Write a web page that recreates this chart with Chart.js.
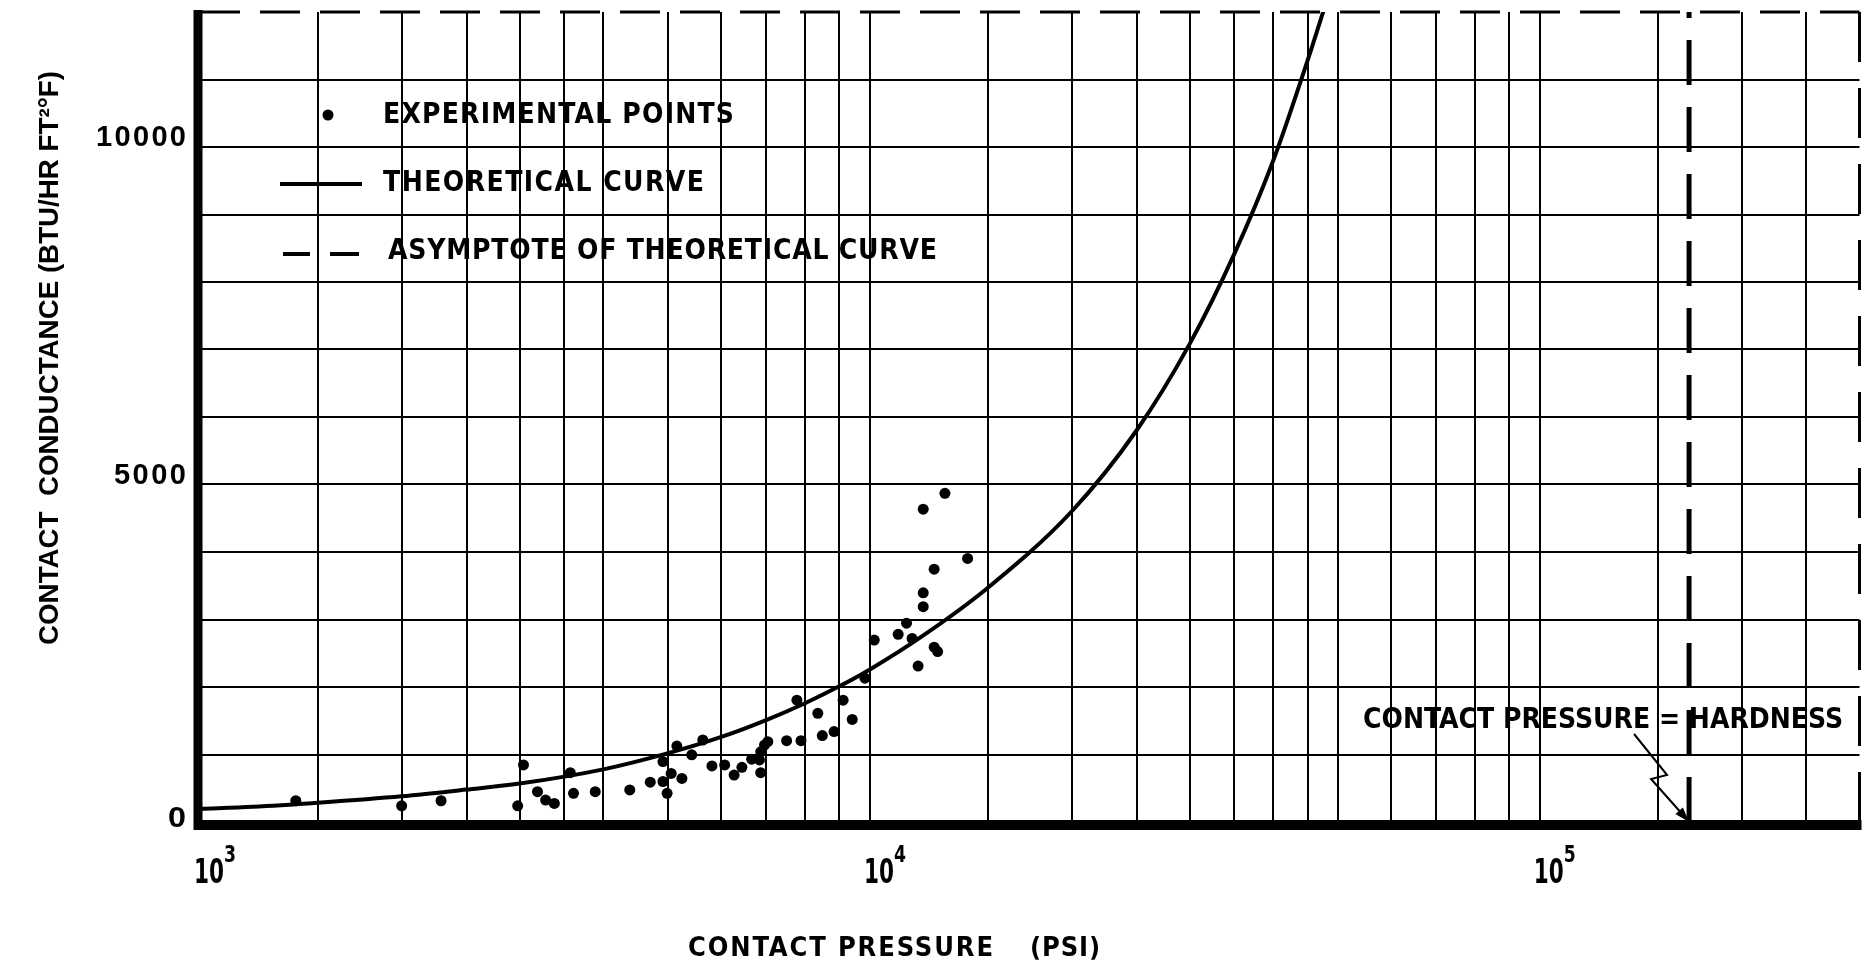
<!DOCTYPE html>
<html>
<head>
<meta charset="utf-8">
<title>Contact conductance vs contact pressure</title>
<script src="https://cdn.jsdelivr.net/npm/chart.js@4.4.1/dist/chart.umd.min.js"></script>
<style>
  html, body { margin: 0; padding: 0; background: #fff; }
  #wrap { width: 1865px; height: 966px; position: relative; }
</style>
</head>
<body>
<div id="wrap"><canvas id="chart"></canvas></div>
<script>
// experimental points (psi, BTU/hr ft2 F)
const expPressure = [1390, 2000, 2290, 2980, 3040, 3190, 3280, 3380, 3570, 3610, 3890, 4380, 4700,
  4910, 4910, 4980, 5050, 5150, 5240, 5420, 5630, 5810, 6070,
  6270, 6440, 6660, 6840, 6870, 6870, 6960, 7040, 7510, 7890,
  7780, 8360, 8490, 8840, 9120, 9410, 9830, 10150, 11020, 11340,
  11560, 11800, 12010, 12010, 12470, 12470, 12620, 12010, 12940, 13990];
const expConductance = [315, 240, 315, 240, 845, 450, 325, 275, 730, 425, 450, 475, 590,
  600, 895, 425, 720, 1125, 645, 995, 1215, 830, 845,
  695, 810, 930, 920, 730, 1040, 1140, 1190, 1205, 1205,
  1805, 1610, 1280, 1340, 1805, 1520, 2130, 2695, 2780, 2945,
  2720, 2310, 3190, 3395, 3745, 2590, 2525, 4635, 4870, 3905];

// theoretical curve
const curvePressure = [1000, 1200, 1500, 2000, 2500, 3000, 4000, 5000, 6000, 7000, 8000, 9000,
  10000, 12000, 15000, 20000, 25000, 30000, 35000, 40000, 45000, 48000];
const curveConductance = [195, 225, 285, 380, 480, 570, 780, 1020, 1260, 1510, 1760, 2010,
  2260, 2760, 3470, 4600, 5800, 7080, 8420, 9800, 11280, 12150];

// asymptote: contact pressure = hardness
const hardnessPressure = 167000;

const xGridValues = [1000, 1500, 2000, 2500, 3000, 3500, 4000, 5000, 6000, 7000, 8000, 9000,
  10000, 15000, 20000, 25000, 30000, 35000, 40000, 45000, 50000, 60000, 70000, 80000, 90000,
  100000, 150000, 200000, 250000];
const xLabelExponents = [3, 4, 5];
const yLabelValues = [0, 5000, 10000];
const legendLabels = ['EXPERIMENTAL POINTS', 'THEORETICAL CURVE', 'ASYMPTOTE OF THEORETICAL CURVE'];

const NARROW = "'Liberation Sans Narrow', 'DejaVu Sans Condensed', 'Liberation Sans', sans-serif";
const WIDE = "'Liberation Sans', 'DejaVu Sans', sans-serif";

// draw bold text stretched (by letter spacing or scaling) to a given width
function spacedText(ctx, text, left, midY, width, size, family) {
  ctx.save();
  ctx.font = `bold ${size}px ${family}`;
  ctx.textBaseline = 'middle';
  ctx.textAlign = 'left';
  if ('letterSpacing' in ctx) ctx.letterSpacing = '0px';
  const natural = ctx.measureText(text).width;
  if (width > natural && 'letterSpacing' in ctx && text.length > 1) {
    ctx.letterSpacing = ((width - natural) / (text.length - 1)) + 'px';
    ctx.fillText(text, left, midY);
  } else {
    ctx.translate(left, midY);
    ctx.scale(width / natural, 1);
    ctx.fillText(text, 0, 0);
  }
  ctx.restore();
}

const paperPlugin = {
  id: 'paper',
  afterDatasetsDraw(chart) {
    const { ctx, chartArea: a, scales } = chart;
    const x = scales.x;
    const y = scales.y;
    ctx.save();
    ctx.strokeStyle = '#000';
    ctx.fillStyle = '#000';

    // dashed top and right edges
    ctx.lineWidth = 3;
    ctx.setLineDash([40, 20]);
    ctx.beginPath(); ctx.moveTo(a.left, a.top); ctx.lineTo(a.right, a.top); ctx.stroke();
    ctx.setLineDash([50, 26]);
    ctx.beginPath(); ctx.moveTo(a.right, a.top); ctx.lineTo(a.right, a.bottom); ctx.stroke();
    ctx.setLineDash([]);

    // heavy axes
    ctx.lineWidth = 9;
    ctx.beginPath(); ctx.moveTo(a.left - 2, a.top - 2); ctx.lineTo(a.left - 2, a.bottom + 8); ctx.stroke();
    ctx.lineWidth = 10;
    ctx.beginPath(); ctx.moveTo(a.left - 6, a.bottom + 3); ctx.lineTo(a.right + 2, a.bottom + 3); ctx.stroke();

    // y tick labels
    yLabelValues.forEach((v) => {
      const text = String(v);
      const py = y.getPixelForValue(v) - (v === 0 ? 3 : 9);
      const w = 18 * text.length;
      spacedText(ctx, text, a.left - 14 - w, py, w, 29, WIDE);
    });

    // x tick labels 10^n
    xLabelExponents.forEach((e) => {
      const px = x.getPixelForValue(Math.pow(10, e));
      spacedText(ctx, '10', px - 6, a.bottom + 52, 30, 34, NARROW);
      spacedText(ctx, String(e), px + 24, a.bottom + 34, 12, 23, NARROW);
    });

    // axis titles
    spacedText(ctx, 'CONTACT PRESSURE', 688, 949, 305, 27, NARROW);
    spacedText(ctx, '(PSI)', 1030, 949, 70, 27, NARROW);
    ctx.save();
    ctx.translate(50, 358);
    ctx.rotate(-Math.PI / 2);
    spacedText(ctx, 'CONTACT  CONDUCTANCE (BTU/HR FT²°F)', -287, 0, 574, 28, WIDE);
    ctx.restore();

    // legend inside the plot
    const L = a.left;
    const T = a.top;
    ctx.beginPath(); ctx.arc(L + 128, T + 103, 5.5, 0, Math.PI * 2); ctx.fill();
    spacedText(ctx, legendLabels[0], L + 183, T + 104, 351, 28, NARROW);
    ctx.lineWidth = 4;
    ctx.beginPath(); ctx.moveTo(L + 80, T + 172); ctx.lineTo(L + 162, T + 172); ctx.stroke();
    spacedText(ctx, legendLabels[1], L + 183, T + 172, 321, 28, NARROW);
    ctx.beginPath();
    ctx.moveTo(L + 83, T + 242); ctx.lineTo(L + 110, T + 242);
    ctx.moveTo(L + 130, T + 242); ctx.lineTo(L + 159, T + 242);
    ctx.stroke();
    spacedText(ctx, legendLabels[2], L + 188, T + 240, 549, 28, NARROW);

    // hardness note with zigzag arrow
    const xa = x.getPixelForValue(hardnessPressure);
    const yb = y.getPixelForValue(0);
    spacedText(ctx, 'CONTACT PRESSURE = HARDNESS', xa - 326, yb - 101, 480, 28, NARROW);
    ctx.lineWidth = 2;
    ctx.beginPath();
    ctx.moveTo(xa - 55, yb - 88);
    ctx.lineTo(xa - 22, yb - 47);
    ctx.lineTo(xa - 38, yb - 43);
    ctx.lineTo(xa - 6, yb - 7);
    ctx.stroke();
    const ang = Math.atan2(43, 38);
    ctx.beginPath();
    ctx.moveTo(xa, yb);
    ctx.lineTo(xa - 15 * Math.cos(ang) + 5 * Math.sin(ang), yb - 15 * Math.sin(ang) - 5 * Math.cos(ang));
    ctx.lineTo(xa - 15 * Math.cos(ang) - 5 * Math.sin(ang), yb - 15 * Math.sin(ang) + 5 * Math.cos(ang));
    ctx.closePath();
    ctx.fill();

    ctx.restore();
  }
};

const canvasElement = document.getElementById('chart');

new Chart(canvasElement, {
  type: 'scatter',
  plugins: [paperPlugin],
  data: {
    datasets: [
      {
        label: legendLabels[0],
        data: expPressure.map((p, i) => ({ x: p, y: expConductance[i] })),
        pointRadius: 5.5,
        pointHoverRadius: 5.5,
        backgroundColor: '#000',
        borderColor: '#000',
        borderWidth: 0,
        showLine: false,
      },
      {
        label: legendLabels[1],
        type: 'line',
        data: curvePressure.map((p, i) => ({ x: p, y: curveConductance[i] })),
        borderColor: '#000',
        borderWidth: 4,
        pointRadius: 0,
        cubicInterpolationMode: 'monotone',
        fill: false,
        clip: 0,
      },
      {
        label: legendLabels[2],
        type: 'line',
        data: [{ x: hardnessPressure, y: 0 }, { x: hardnessPressure, y: 12000 }],
        borderColor: '#000',
        borderWidth: 5,
        borderDash: [45, 22],
        pointRadius: 0,
        fill: false,
      },
    ],
  },
  options: {
    responsive: true,
    maintainAspectRatio: false,
    animation: false,
    devicePixelRatio: 1,
    layout: { padding: { top: 12, right: 3, bottom: 0, left: 0 } },
    plugins: {
      legend: { display: false },
      tooltip: { enabled: false },
    },
    scales: {
      x: {
        type: 'logarithmic',
        min: 1000,
        max: 300000,
        border: { display: false },
        grid: { color: '#000', lineWidth: 2, drawTicks: false },
        ticks: { display: false, autoSkip: false },
        afterBuildTicks: (scale) => {
          scale.ticks = xGridValues.map((v) => ({ value: v }));
        },
        afterFit: (scale) => {
          scale.height = 144;
        },
      },
      y: {
        min: 0,
        max: 12000,
        border: { display: false },
        grid: {
          color: (c) => (c.tick && c.tick.value === 12000 ? 'rgba(0,0,0,0)' : '#000'),
          lineWidth: 2,
          drawTicks: false,
        },
        ticks: { display: false, stepSize: 1000 },
        afterFit: (scale) => {
          scale.width = 200;
        },
      },
    },
  },
});
</script>
</body>
</html>
